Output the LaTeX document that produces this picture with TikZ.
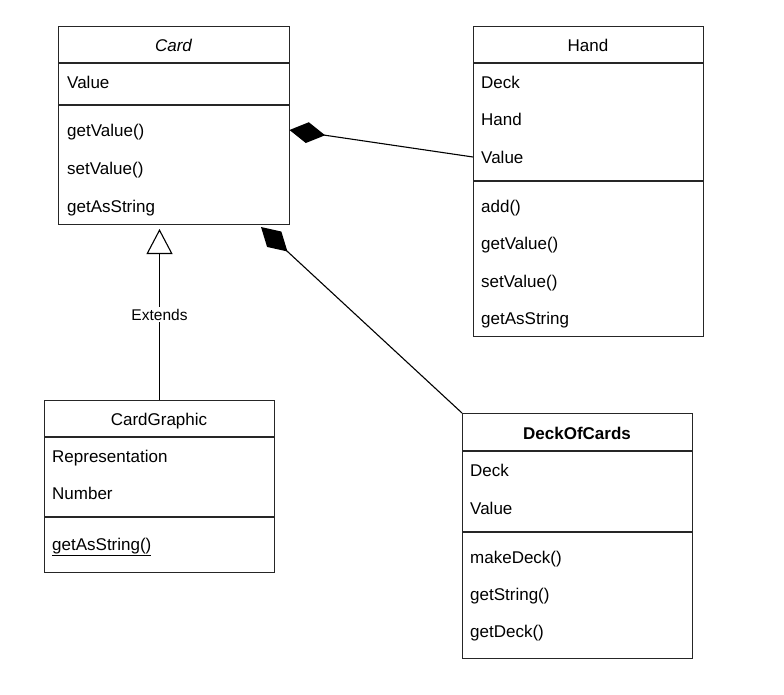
\documentclass[tikz,border=0pt]{standalone}
\usepackage{fontspec}
\setmainfont{Liberation Sans}
\usetikzlibrary{arrows.meta}
\tikzset{
  classbox/.style={draw=black!85, line width=1.3pt, anchor=north west, inner sep=0pt, fill=white},
  divider/.style={draw=black!85, line width=1.3pt},
  item/.style={anchor=west, inner sep=0pt, text height=12.2pt, text depth=0pt, font=\fontsize{17}{20}\selectfont},
  title/.style={anchor=center, inner sep=0pt, text height=12.2pt, text depth=0pt, font=\fontsize{17}{20}\selectfont},
  conn/.style={draw=black, line width=1.1pt},
}
\begin{document}
\begin{tikzpicture}[x=1pt,y=-1pt]
\useasboundingbox (0,0) rectangle (784,694);

% ---------- Card ----------
\node[classbox, minimum width=231pt, minimum height=198pt] (card) at (58,26) {};
\draw[divider] (58,63) -- (289,63);
\draw[divider] (58,105) -- (289,105);
\node[title] (cardt) at (173.5,45) {\itshape Card};
\node[item] (card1) at (67,82) {Value};
\node[item] (card2) at (67,130) {getValue()};
\node[item] (card3) at (67,168) {setValue()};
\node[item] (card4) at (67,206) {getAsString};

% ---------- Hand ----------
\node[classbox, minimum width=230pt, minimum height=310pt] (hand) at (473,26) {};
\draw[divider] (473,63) -- (703,63);
\draw[divider] (473,181) -- (703,181);
\node[title] (handt) at (588,45) {Hand};
\node[item] (hand1) at (481,82) {Deck};
\node[item] (hand2) at (481,119) {Hand};
\node[item] (hand3) at (481,157) {Value};
\node[item] (hand4) at (481,206) {add()};
\node[item] (hand5) at (481,243) {getValue()};
\node[item] (hand6) at (481,281) {setValue()};
\node[item] (hand7) at (481,318) {getAsString};

% ---------- CardGraphic ----------
\node[classbox, minimum width=230pt, minimum height=172pt] (cg) at (44,400) {};
\draw[divider] (44,437) -- (274,437);
\draw[divider] (44,517) -- (274,517);
\node[title] (cgt) at (159,419) {CardGraphic};
\node[item] (cg1) at (52,456) {Representation};
\node[item] (cg2) at (52,493) {Number};
\node[item] (cg3) at (52,544) {\underline{getAsString()}};

% ---------- DeckOfCards ----------
\node[classbox, minimum width=230pt, minimum height=245pt] (deck) at (462,413) {};
\draw[divider] (462,451) -- (692,451);
\draw[divider] (462,532) -- (692,532);
\node[title] (deckt) at (577,433) {\bfseries DeckOfCards};
\node[item] (deck1) at (470,470) {Deck};
\node[item] (deck2) at (470,508) {Value};
\node[item] (deck3) at (470,557) {makeDeck()};
\node[item] (deck4) at (470,594) {getString()};
\node[item] (deck5) at (470,631) {getDeck()};

% ---------- Connectors ----------
\coordinate (handin) at (473,157);
\coordinate (cardR) at (289.5,130);
\draw[conn, -{Diamond[length=36pt,width=21pt,fill=black,line width=0pt]}] (handin) -- (cardR);

\coordinate (deckin) at (462,413);
\coordinate (cardB) at (261,227);
\draw[conn, -{Diamond[length=36pt,width=21pt,fill=black,line width=0pt]}] (deckin) -- (cardB);

\coordinate (cgtop) at (159.5,400);
\coordinate (cardE) at (159.5,229);
\draw[conn, -{Triangle[open,length=25pt,width=26pt,fill=white]}] (cgtop) -- node[pos=0.5, fill=white, inner sep=2pt, text height=11pt, text depth=0pt, font=\fontsize{15.5}{18}\selectfont] (ext) {Extends} (cardE);
\end{tikzpicture}
\end{document}
